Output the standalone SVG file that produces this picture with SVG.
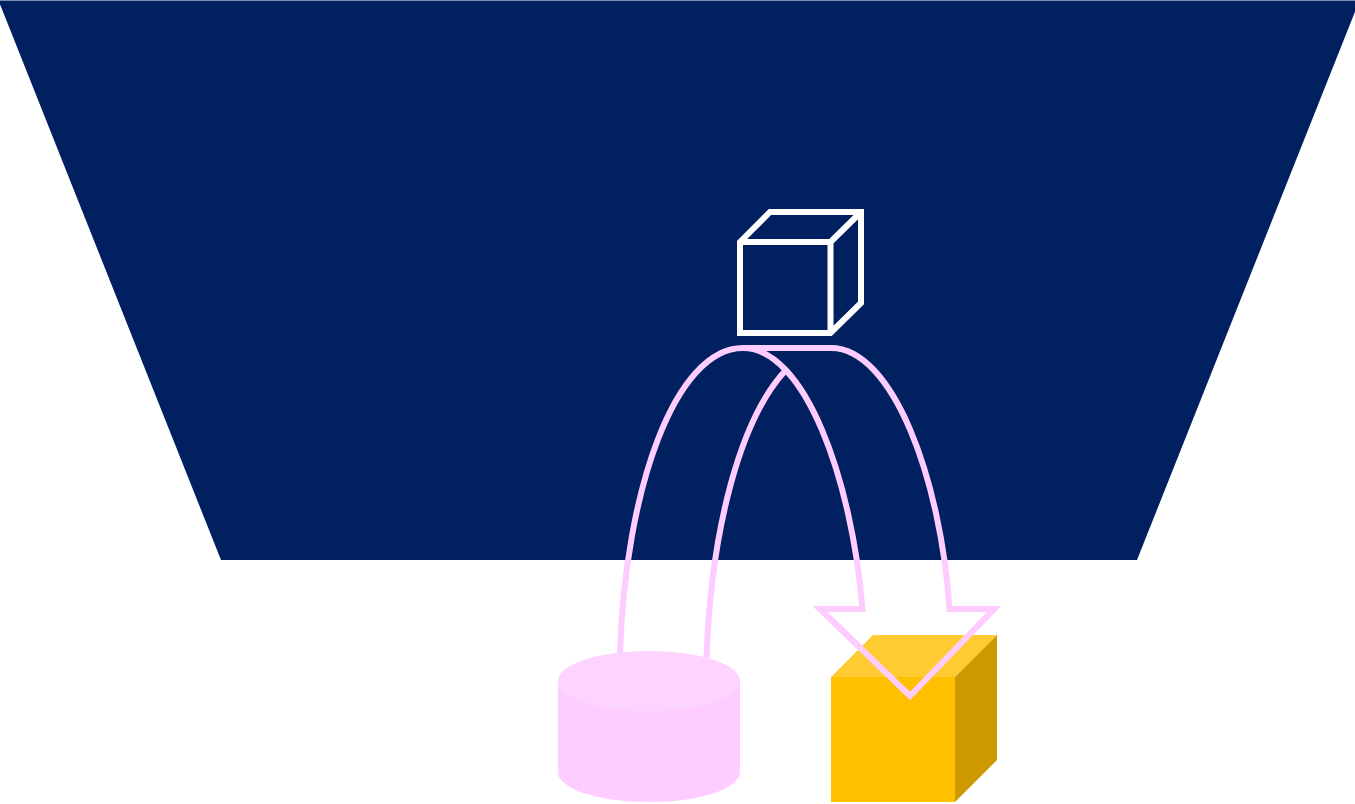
<svg xmlns="http://www.w3.org/2000/svg" width="1355" height="804" viewBox="0 0 1355 804">
<style>
.wire{fill:none;stroke:#fff;stroke-width:6;stroke-linejoin:miter}
.conn{fill:none;stroke:#fcf;stroke-width:6;stroke-linejoin:miter}
</style>
<rect width="1355" height="804" fill="#fff"/>
<g id="backdrop"><polygon points="-1.5,0.5 1359.500,0.5 1137,560 221,560" fill="#002060"/></g>
<g id="connectors">
<path class="conn" d="M620,654C625,490 675,348 743,348H831C893,348 941,480 949.500,609H994L910,696L820,609H862.500C852,480 805,348 743,348M785,371C740,420 711,530 706.500,658"/>
</g>
<g id="cylinder">
<path d="M558,681V772C558,789 599,802 649,802S740,789 740,772V681Z" fill="#fcf"/>
<ellipse cx="649" cy="681" rx="91" ry="30" fill="#fdd4ff"/>
</g>
<g id="solid-cube">
<rect x="831" y="677" width="124" height="125" fill="#ffc000"/>
<polygon points="831,677 873,635 997,635 955,677" fill="#ffcb33"/>
<polygon points="955,677 997,635 997,760 955,802" fill="#cc9a00"/>
<path class="conn" d="M862.500,609H820L910,696L994,609"/>
</g>
<g id="wire-cube">
<path class="wire" d="M740,242L770,212H861V303L830.500,333H740ZM740,242H830.500V333M830.500,242L861,212"/>
</g>
</svg>
